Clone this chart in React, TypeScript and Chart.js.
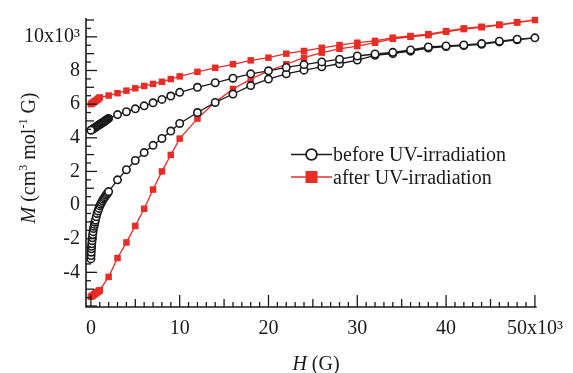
import React, { useEffect, useRef } from "react";
import { Chart, registerables } from "chart.js";

Chart.register(...registerables);

// before UV-irradiation: field sweep up (lower branch) then back down (upper branch), H in 10^3 G, M in 10^3
const beforeUpH = [0, 0.02, 0.04, 0.06, 0.08, 0.1, 0.13, 0.16, 0.2, 0.25, 0.3, 0.35, 0.4, 0.45, 0.5, 0.6, 0.7, 0.8, 0.9, 1.0, 1.1, 1.2, 1.3, 1.4, 1.5, 1.6, 1.7, 1.8, 1.9, 2.0, 3, 4, 5, 6, 7, 8, 9, 10, 12, 14, 16, 18, 20, 22, 24, 26, 28, 30, 32, 34, 36, 38, 40, 42, 44, 46, 48, 50];
const beforeUpM = [-3.2, -3.0, -2.8, -2.6, -2.45, -2.3, -2.12, -1.95, -1.75, -1.58, -1.4, -1.27, -1.15, -1.02, -0.9, -0.7, -0.5, -0.35, -0.2, -0.05, 0.05, 0.15, 0.25, 0.35, 0.43, 0.5, 0.58, 0.65, 0.73, 0.8, 1.5, 2.1, 2.65, 3.12, 3.55, 3.96, 4.4, 4.85, 5.5, 6.1, 6.6, 7.1, 7.49, 7.8, 8.02, 8.22, 8.4, 8.62, 8.9, 9.0, 9.15, 9.33, 9.42, 9.48, 9.56, 9.7, 9.82, 9.94];
const beforeDownH = [48, 46, 44, 42, 40, 38, 36, 34, 32, 30, 28, 26, 24, 22, 20, 18, 16, 14, 12, 10, 9, 8, 7, 6, 5, 4, 3, 2.0, 1.9, 1.8, 1.7, 1.6, 1.5, 1.4, 1.3, 1.2, 1.1, 1.0, 0.9, 0.8, 0.7, 0.6, 0.5, 0.4, 0.3, 0.2, 0.1, 0];
const beforeDownM = [9.86, 9.74, 9.6, 9.52, 9.46, 9.4, 9.22, 9.08, 8.98, 8.86, 8.67, 8.51, 8.35, 8.18, 7.98, 7.8, 7.54, 7.27, 7.0, 6.7, 6.48, 6.28, 6.08, 5.9, 5.72, 5.55, 5.38, 5.15, 5.12, 5.08, 5.04, 5.0, 4.97, 4.93, 4.9, 4.86, 4.83, 4.79, 4.76, 4.72, 4.69, 4.65, 4.62, 4.58, 4.55, 4.51, 4.48, 4.45];

// after UV-irradiation
const afterUpH = [0, 0.1, 0.2, 0.3, 0.4, 0.5, 0.6, 0.7, 0.8, 0.9, 1.0, 2, 3, 4, 5, 6, 7, 8, 9, 10, 12, 14, 16, 18, 20, 22, 24, 26, 28, 30, 32, 34, 36, 38, 40, 42, 44, 46, 48, 50];
const afterUpM = [-5.45, -5.42, -5.38, -5.34, -5.3, -5.26, -5.22, -5.18, -5.15, -5.1, -5.06, -4.27, -3.15, -2.22, -1.24, -0.22, 0.92, 2.0, 2.98, 3.95, 5.14, 6.12, 6.9, 7.49, 7.98, 8.37, 8.76, 9.06, 9.29, 9.45, 9.65, 9.88, 10.0, 10.1, 10.3, 10.46, 10.57, 10.7, 10.85, 11.0];
const afterDownH = [48, 46, 44, 42, 40, 38, 36, 34, 32, 30, 28, 26, 24, 22, 20, 18, 16, 14, 12, 10, 9, 8, 7, 6, 5, 4, 3, 2, 1.0, 0.9, 0.8, 0.7, 0.6, 0.5, 0.4, 0.3, 0.2, 0.1, 0];
const afterDownM = [10.87, 10.73, 10.6, 10.5, 10.34, 10.16, 10.05, 9.95, 9.76, 9.65, 9.51, 9.35, 9.16, 9.0, 8.76, 8.6, 8.37, 8.16, 7.92, 7.65, 7.49, 7.33, 7.2, 7.08, 6.94, 6.8, 6.65, 6.51, 6.4, 6.35, 6.3, 6.26, 6.22, 6.18, 6.15, 6.11, 6.08, 6.04, 6.0];

const xTicks = [0, 10, 20, 30, 40, 50];
const yTicks = [-4, -2, 0, 2, 4, 6, 8, 10];
const legendLabels = ["before UV-irradiation", "after UV-irradiation"];

const RED = "rgb(232,45,38)";
const BLACK = "#1a1a1a";
const FONT = "'Liberation Serif', 'DejaVu Serif', serif";

const toPts = (h1: number[], m1: number[], h2: number[], m2: number[]) => [
  ...h1.map((h, i) => ({ x: h, y: m1[i] })),
  ...h2.map((h, i) => ({ x: h, y: m2[i] })),
];

type Seg = { t: string; italic?: boolean; sup?: boolean };

function drawRich(ctx: CanvasRenderingContext2D, segs: Seg[], size: number) {
  const fontFor = (s: Seg) => `${s.italic ? "italic " : ""}${s.sup ? Math.round(size * 0.62) : size}px ${FONT}`;
  let total = 0;
  const widths = segs.map((s) => {
    ctx.font = fontFor(s);
    const w = ctx.measureText(s.t).width;
    total += w;
    return w;
  });
  let x = -total / 2;
  segs.forEach((s, i) => {
    ctx.font = fontFor(s);
    ctx.fillText(s.t, x, s.sup ? -size * 0.42 : 0);
    x += widths[i];
  });
}

const customPlugin = {
  id: "customAxes",
  afterDraw(chart: any) {
    const { ctx, chartArea: ca, scales } = chart;
    const xs = scales.x;
    const ys = scales.y;
    ctx.save();
    ctx.strokeStyle = BLACK;
    ctx.lineWidth = 1.6;
    ctx.beginPath();
    ctx.moveTo(ca.left, ca.top);
    ctx.lineTo(ca.left, ca.bottom);
    ctx.lineTo(ca.right, ca.bottom);
    ctx.stroke();

    ctx.lineWidth = 1.3;
    for (let k = Math.ceil(ys.min * 2); k <= Math.floor(ys.max * 2); k++) {
      const v = k / 2;
      const len = v % 2 === 0 ? 11 : Number.isInteger(v) ? 8 : 5;
      const py = ys.getPixelForValue(v);
      ctx.beginPath();
      ctx.moveTo(ca.left, py);
      ctx.lineTo(ca.left + len, py);
      ctx.stroke();
    }
    for (let k = 0; k <= 50; k++) {
      const len = k % 10 === 0 ? 12 : k % 5 === 0 ? 8 : 5;
      const px = xs.getPixelForValue(k);
      ctx.beginPath();
      ctx.moveTo(px, ca.bottom);
      ctx.lineTo(px, ca.bottom - len);
      ctx.stroke();
    }

    // legend
    ctx.lineWidth = 1.5;
    ctx.strokeStyle = BLACK;
    ctx.beginPath();
    ctx.moveTo(291, 154.5);
    ctx.lineTo(332, 154.5);
    ctx.stroke();
    ctx.fillStyle = "#fff";
    ctx.beginPath();
    ctx.arc(311.5, 154.5, 5.4, 0, Math.PI * 2);
    ctx.fill();
    ctx.lineWidth = 1.7;
    ctx.stroke();
    ctx.lineWidth = 1.5;
    ctx.strokeStyle = RED;
    ctx.beginPath();
    ctx.moveTo(291, 177);
    ctx.lineTo(332, 177);
    ctx.stroke();
    ctx.fillStyle = RED;
    ctx.fillRect(311.5 - 6, 177 - 6, 12, 12);

    ctx.fillStyle = "#1a1a1a";
    ctx.font = `20px ${FONT}`;
    ctx.textAlign = "left";
    ctx.textBaseline = "alphabetic";
    ctx.fillText(legendLabels[0], 333, 161);
    ctx.fillText(legendLabels[1], 333, 184);

    // axis titles
    ctx.save();
    ctx.translate(316, 370);
    drawRich(ctx, [{ t: "H", italic: true }, { t: " (G)" }], 20);
    ctx.restore();

    ctx.save();
    ctx.translate(35, 158);
    ctx.rotate(-Math.PI / 2);
    drawRich(
      ctx,
      [{ t: "M", italic: true }, { t: " (cm" }, { t: "3", sup: true }, { t: " mol" }, { t: "-1", sup: true }, { t: " G)" }],
      20
    );
    ctx.restore();
    ctx.restore();
  },
};

export default function App() {
  const ref = useRef<HTMLCanvasElement>(null);
  useEffect(() => {
    if (!ref.current) return;
    const chart = new Chart(ref.current, {
      type: "scatter",
      data: {
        datasets: [
          {
            label: legendLabels[0],
            data: toPts(beforeUpH, beforeUpM, beforeDownH, beforeDownM),
            showLine: true,
            borderColor: BLACK,
            borderWidth: 1.3,
            pointStyle: "circle",
            pointRadius: 3.7,
            pointBorderWidth: 1.6,
            pointBorderColor: BLACK,
            pointBackgroundColor: "#fff",
            clip: false as any,
          },
          {
            label: legendLabels[1],
            data: toPts(afterUpH, afterUpM, afterDownH, afterDownM),
            showLine: true,
            borderColor: RED,
            borderWidth: 1.3,
            pointStyle: "rect",
            pointRadius: 4.6,
            pointBorderWidth: 0,
            pointBorderColor: RED,
            pointBackgroundColor: RED,
            clip: false as any,
          },
        ],
      },
      options: {
        animation: false,
        responsive: false,
        maintainAspectRatio: false,
        layout: { padding: { left: 0, right: 30, top: 15, bottom: 0 } },
        plugins: { legend: { display: false }, tooltip: { enabled: false } },
        scales: {
          x: {
            type: "linear",
            min: -0.55,
            max: 50.2,
            grid: { display: false, drawTicks: false },
            border: { display: false },
            afterBuildTicks: (s: any) => {
              s.ticks = xTicks.map((v) => ({ value: v }));
            },
            afterFit: (s: any) => {
              s.height = 66;
            },
            ticks: {
              padding: 10,
              color: "#1a1a1a",
              font: { family: FONT, size: 20 },
              maxRotation: 0,
              autoSkip: false,
              callback: (v: any) => (v === 50 ? "50x10\u00B3" : String(v)),
            },
          },
          y: {
            type: "linear",
            min: -6.06,
            max: 11.12,
            grid: { display: false, drawTicks: false },
            border: { display: false },
            afterBuildTicks: (s: any) => {
              s.ticks = yTicks.map((v) => ({ value: v }));
            },
            afterFit: (s: any) => {
              s.width = 86;
            },
            ticks: {
              padding: 6,
              color: "#1a1a1a",
              font: { family: FONT, size: 20 },
              autoSkip: false,
              callback: (v: any) => (v === 10 ? "10x10\u00B3" : String(v)),
            },
          },
        },
      },
      plugins: [customPlugin],
    });
    return () => chart.destroy();
  }, []);
  return (
    <div style={{ position: "fixed", left: 0, top: 0, width: 573, height: 373, background: "#fff" }}>
      <canvas ref={ref} width={573} height={373} style={{ width: 573, height: 373 }} />
    </div>
  );
}
